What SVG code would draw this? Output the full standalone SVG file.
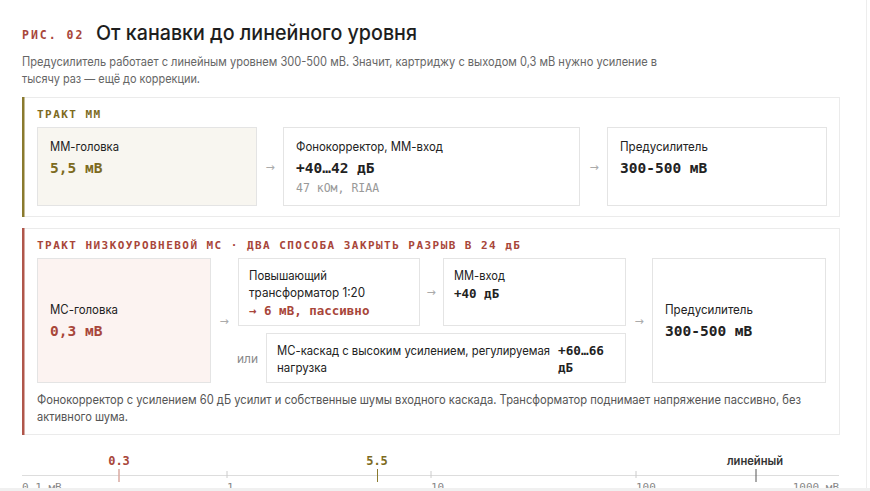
<svg xmlns="http://www.w3.org/2000/svg" width="870" height="491" viewBox="0 0 870 491">
<style>
.sans{font-family:Inter,"Noto Sans","Liberation Sans",sans-serif}
.mono{font-family:"DejaVu Sans Mono","Liberation Mono",monospace;font-weight:bold}
.panel{fill:#fff;stroke:#ebebeb;stroke-width:1}
.box{fill:#fff;stroke:#e4e4e4;stroke-width:1}
.name{font-size:12.5px;fill:#222}
.val{font-size:14.5px;fill:#222}
.arr{font-size:11px;fill:#aaa;font-family:"DejaVu Sans",sans-serif}
.lbl{font-size:11px;letter-spacing:1.45px}
.red{fill:#a8463a}
.olive{fill:#7d6b1e}
.tickl{font-size:11px;fill:#888;font-family:"DejaVu Sans Mono",monospace}
</style>
<rect width="870" height="491" fill="#fff"/>
<line x1="866.5" y1="0" x2="866.5" y2="491" stroke="#ededed"/>
<text x="22" y="39" class="mono red" font-size="11.5" letter-spacing="2">РИС. 02</text>
<text x="96" y="39.5" class="sans" font-size="20.5" font-weight="500" fill="#1e1e1e" textLength="321" lengthAdjust="spacingAndGlyphs">От канавки до линейного уровня</text>
<text x="22" y="66" class="sans" font-size="12.5" fill="#666" textLength="635" lengthAdjust="spacingAndGlyphs">Предусилитель работает с линейным уровнем 300-500 мВ. Значит, картриджу с выходом 0,3 мВ нужно усиление в</text>
<text x="22" y="83" class="sans" font-size="12.5" fill="#666" textLength="178" lengthAdjust="spacingAndGlyphs">тысячу раз — ещё до коррекции.</text>

<g id="panel-mm">
<rect x="22.5" y="97.5" width="817" height="119" class="panel"/>
<rect x="22" y="97" width="2.5" height="120" fill="#8a7a2e"/>
<text x="37" y="118" class="mono lbl olive">ТРАКТ ММ</text>
</g>
<g id="mm-head">
<rect x="37.5" y="127.5" width="219" height="78" class="box" style="fill:#f8f6f0"/>
<text x="50" y="151" class="sans name" textLength="69" lengthAdjust="spacingAndGlyphs">ММ-головка</text>
<text x="50" y="173" class="mono val olive">5,5 мВ</text>
</g>
<g id="mm-phono">
<rect x="283.5" y="127.5" width="296" height="78" class="box"/>
<text x="296" y="151" class="sans name" textLength="147" lengthAdjust="spacingAndGlyphs">Фонокорректор, ММ-вход</text>
<text x="296" y="173" class="mono val">+40…42 дБ</text>
<text x="296" y="192" font-family="DejaVu Sans Mono, monospace" font-size="11.5" fill="#999">47 кОм, RIAA</text>
</g>
<g id="mm-pre">
<rect x="607.5" y="127.5" width="219" height="78" class="box"/>
<text x="620" y="151" class="sans name" textLength="88" lengthAdjust="spacingAndGlyphs">Предусилитель</text>
<text x="620" y="173" class="mono val">300-500 мВ</text>
</g>

<g id="panel-mc">
<rect x="22.5" y="228.5" width="817" height="206" class="panel"/>
<rect x="22" y="228" width="2.5" height="207" fill="#b0564a"/>
<text x="37" y="249" class="mono lbl red">ТРАКТ НИЗКОУРОВНЕВОЙ МС · ДВА СПОСОБА ЗАКРЫТЬ РАЗРЫВ В 24 дБ</text>
<text x="37" y="404" class="sans" font-size="12.5" fill="#555" textLength="764" lengthAdjust="spacingAndGlyphs">Фонокорректор с усилением 60 дБ усилит и собственные шумы входного каскада. Трансформатор поднимает напряжение пассивно, без</text>
<text x="37" y="421" class="sans" font-size="12.5" fill="#555" textLength="91" lengthAdjust="spacingAndGlyphs">активного шума.</text>
</g>
<g id="mc-head">
<rect x="37.5" y="258.5" width="173" height="124" class="box" style="fill:#fcf3f1"/>
<text x="50" y="314" class="sans name" textLength="68" lengthAdjust="spacingAndGlyphs">МС-головка</text>
<text x="50" y="336" class="mono val red">0,3 мВ</text>
</g>
<g id="mc-transformer">
<rect x="238.5" y="258.5" width="181" height="67" class="box"/>
<text x="249" y="280" class="sans name" textLength="78" lengthAdjust="spacingAndGlyphs">Повышающий</text>
<text x="249" y="297" class="sans name" textLength="116" lengthAdjust="spacingAndGlyphs">трансформатор 1:20</text>
<text x="249" y="315" class="mono red" font-size="12.5">→ 6 мВ, пассивно</text>
</g>
<g id="mc-mm-input">
<rect x="443.5" y="258.5" width="182" height="67" class="box"/>
<text x="454" y="280" class="sans name" textLength="51" lengthAdjust="spacingAndGlyphs">ММ-вход</text>
<text x="454" y="298" class="mono" font-size="12.5" fill="#222">+40 дБ</text>
</g>
<g id="mc-stage">
<rect x="266.5" y="333.5" width="359" height="49" class="box"/>
<text x="277" y="355" class="sans name" textLength="273" lengthAdjust="spacingAndGlyphs">МС-каскад с высоким усилением, регулируемая</text>
<text x="277" y="372" class="sans name" textLength="50" lengthAdjust="spacingAndGlyphs">нагрузка</text>
<text x="558" y="355" class="mono" font-size="12.5" fill="#222" textLength="46" lengthAdjust="spacingAndGlyphs">+60…66</text>
<text x="558" y="372" class="mono" font-size="12.5" fill="#222">дБ</text>
</g>
<g id="mc-pre">
<rect x="652.5" y="258.5" width="173" height="124" class="box"/>
<text x="665" y="314" class="sans name" textLength="88" lengthAdjust="spacingAndGlyphs">Предусилитель</text>
<text x="665" y="336" class="mono val">300-500 мВ</text>
</g>

<g id="connectors">
<text x="270" y="171" class="arr" text-anchor="middle">→</text>
<text x="594" y="171" class="arr" text-anchor="middle">→</text>
<text x="224" y="325" class="arr" text-anchor="middle">→</text>
<text x="431" y="296" class="arr" text-anchor="middle">→</text>
<text x="639" y="325" class="arr" text-anchor="middle">→</text>
<text x="237" y="363" class="sans" font-size="12" fill="#888" textLength="21" lengthAdjust="spacingAndGlyphs">или</text>
</g>

<g id="scale">
<line x1="22" y1="475.5" x2="839" y2="475.5" stroke="#ddd"/>
<line x1="227" y1="471" x2="227" y2="478" stroke="#ccc"/>
<line x1="431" y1="471" x2="431" y2="478" stroke="#ccc"/>
<line x1="636" y1="471" x2="636" y2="478" stroke="#ccc"/>
<line x1="119" y1="469" x2="119" y2="482" stroke="#d9a8a0" stroke-width="1.5"/>
<line x1="377.5" y1="469" x2="377.5" y2="482" stroke="#8a7a2e" stroke-width="1"/>
<line x1="756" y1="469" x2="756" y2="482" stroke="#555" stroke-width="1"/>
<text x="119" y="465" class="mono red" font-size="12" text-anchor="middle">0.3</text>
<text x="377" y="465" class="mono olive" font-size="12" text-anchor="middle">5.5</text>
<text x="727" y="465" class="sans" font-size="12" font-weight="600" fill="#333" textLength="56" lengthAdjust="spacingAndGlyphs">линейный</text>
<text x="22" y="491" class="tickl">0.1 мВ</text>
<text x="227" y="491" class="tickl">1</text>
<text x="431" y="491" class="tickl">10</text>
<text x="636" y="491" class="tickl">100</text>
<text x="839" y="491" class="tickl" text-anchor="end">1000 мВ</text>
</g>
<rect x="0" y="488" width="870" height="3" fill="#f0f0f0"/>
</svg>
